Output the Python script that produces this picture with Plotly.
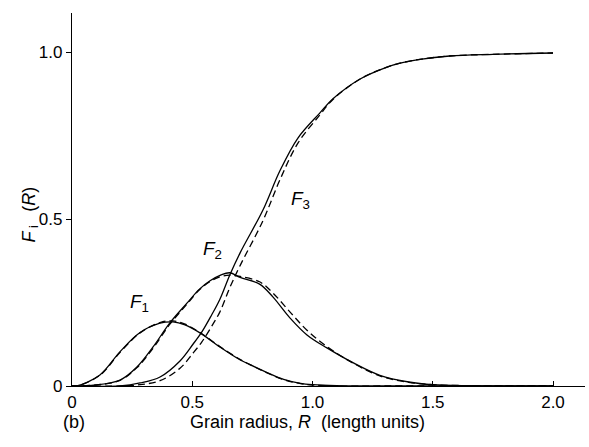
import plotly.graph_objects as go

# ---- data ----
R_f1 = [0.0, 0.02, 0.116, 0.2, 0.283, 0.366, 0.42, 0.47, 0.532, 0.615, 0.7, 0.74, 0.8, 0.88, 0.95, 1.0, 1.1, 1.3, 1.6, 2.0]
F1_solid = [0.0, 0.0, 0.033, 0.103, 0.160, 0.188, 0.192, 0.183, 0.159, 0.117, 0.078, 0.064, 0.044, 0.02, 0.008, 0.004, 0.001, 0.0, 0.0, 0.0]
F1_dashed = [0.0, 0.0, 0.032, 0.101, 0.159, 0.190, 0.195, 0.185, 0.160, 0.118, 0.079, 0.064, 0.043, 0.019, 0.007, 0.003, 0.0, 0.0, 0.0, 0.0]

R_f2 = [0.0, 0.1, 0.2, 0.27, 0.337, 0.407, 0.478, 0.53, 0.574, 0.62, 0.657, 0.699, 0.78, 0.836, 0.906, 0.977, 1.06, 1.17, 1.28, 1.4, 1.5, 1.65, 2.0]
F2_solid = [0.0, 0.003, 0.018, 0.057, 0.117, 0.189, 0.248, 0.29, 0.315, 0.333, 0.339, 0.325, 0.305, 0.266, 0.204, 0.153, 0.114, 0.069, 0.032, 0.012, 0.004, 0.001, 0.0]
F2_dashed = [0.0, 0.003, 0.017, 0.055, 0.113, 0.185, 0.245, 0.288, 0.313, 0.328, 0.332, 0.328, 0.312, 0.278, 0.222, 0.167, 0.118, 0.068, 0.030, 0.011, 0.004, 0.001, 0.0]

R_f3 = [0.0, 0.2, 0.283, 0.366, 0.449, 0.503, 0.54, 0.58, 0.615, 0.657, 0.7, 0.794, 0.865, 0.94, 1.03, 1.085, 1.2, 1.31, 1.36, 1.447, 1.57, 1.75, 2.0]
F3_solid = [0.0, 0.0, 0.009, 0.027, 0.075, 0.125, 0.162, 0.212, 0.26, 0.334, 0.400, 0.527, 0.645, 0.743, 0.817, 0.860, 0.920, 0.955, 0.966, 0.978, 0.988, 0.993, 0.997]
F3_dashed = [0.0, 0.0, 0.004, 0.016, 0.053, 0.098, 0.132, 0.178, 0.222, 0.296, 0.362, 0.495, 0.618, 0.728, 0.811, 0.858, 0.920, 0.955, 0.966, 0.978, 0.988, 0.993, 0.997]

x_ticks = [0, 0.5, 1.0, 1.5, 2.0]
x_tick_text = ["0", "0.5", "1.0", "1.5", "2.0"]
y_ticks = [0, 0.5, 1.0]
y_tick_text = ["0", "0.5", "1.0"]

labels = [("F", "1", 0.279, 0.249), ("F", "2", 0.586, 0.407), ("F", "3", 0.952, 0.557)]

FONT = "Liberation Sans Narrow, Liberation Sans, Arial, sans-serif"

fig = go.Figure()
for R, ys, yd in [(R_f1, F1_solid, F1_dashed), (R_f2, F2_solid, F2_dashed), (R_f3, F3_solid, F3_dashed)]:
    fig.add_trace(go.Scatter(x=R, y=ys, mode="lines", line=dict(color="black", width=1.3, shape="spline", smoothing=1.0), showlegend=False))
    fig.add_trace(go.Scatter(x=R, y=yd, mode="lines", line=dict(color="black", width=1.3, dash="7px,4px", shape="spline", smoothing=1.0), showlegend=False))

for base, sub, x, y in labels:
    fig.add_annotation(x=x, y=y, xref="x", yref="y", showarrow=False,
                       text=f"<i>{base}</i><sub>{sub}</sub>", font=dict(size=19, family=FONT, color="black"))

fig.add_annotation(xref="paper", yref="paper", x=(307 - 72) / 513, y=-(434 - 386) / 373, showarrow=False,
                   text="Grain radius, <i>R</i>  (length units)", font=dict(size=18, family=FONT, color="black"))
fig.add_annotation(xref="paper", yref="paper", x=(61 - 72) / 513, y=-(434 - 386) / 373, showarrow=False,
                   text="(b)", font=dict(size=18, family=FONT, color="black"))
fig.add_annotation(xref="paper", yref="paper", x=(16 - 72) / 513, y=(386 - 215) / 373, showarrow=False,
                   text="<i>F</i><sub> i </sub>  (<i>R</i>)", textangle=-90,
                   font=dict(size=18, family=FONT, color="black"))

fig.update_layout(
    width=589, height=447,
    margin=dict(l=72, r=4, t=13, b=61),
    paper_bgcolor="white", plot_bgcolor="white",
    font=dict(family=FONT, size=17, color="black"),
    xaxis=dict(range=[0, 513 / 240.5], tickvals=x_ticks, ticktext=x_tick_text, showline=True, linecolor="black",
               linewidth=1.2, ticks="inside", ticklen=5, tickcolor="black", showgrid=False, zeroline=False),
    yaxis=dict(range=[0, 373 / 334], tickvals=y_ticks, ticktext=y_tick_text, showline=True, linecolor="black",
               linewidth=1.2, ticks="outside", ticklen=5, tickcolor="black", showgrid=False, zeroline=False),
)

fig.write_html("out.html")
